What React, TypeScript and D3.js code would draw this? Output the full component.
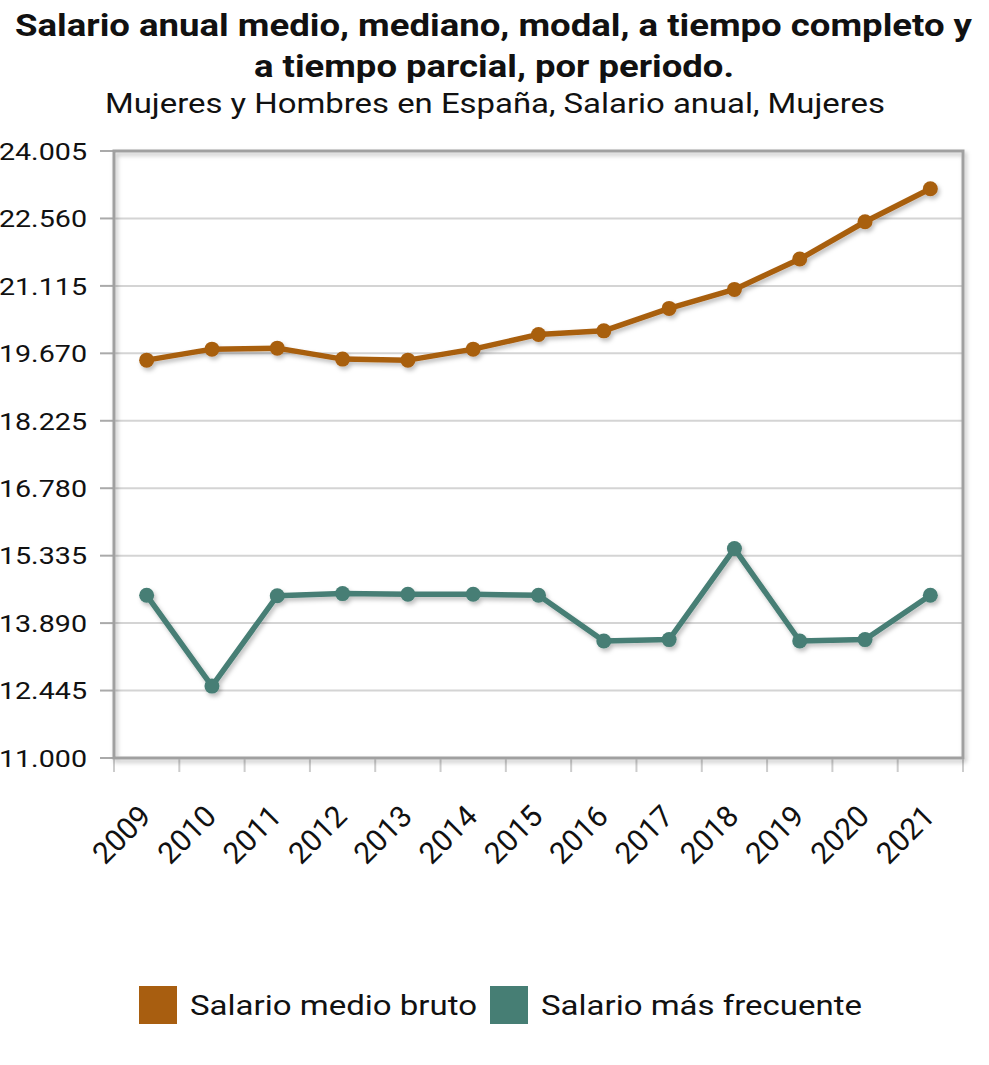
import * as d3 from "d3";

const years = ["2009", "2010", "2011", "2012", "2013", "2014", "2015", "2016", "2017", "2018", "2019", "2020", "2021"];
const salarioMedio = [19524, 19760, 19781, 19546, 19524, 19760, 20075, 20152, 20633, 21040, 21690, 22489, 23197];
const salarioFrecuente = [14486, 12541, 14476, 14522, 14507, 14507, 14486, 13507, 13537, 15487, 13507, 13537, 14486];
const yTicks = [11000, 12445, 13890, 15335, 16780, 18225, 19670, 21115, 22560, 24005];
const seriesNames = ["Salario medio bruto", "Salario más frecuente"];
const colors = ["#a85e10", "#467e74"];

const width = 989;
const height = 1065;
const margin = { top: 151, right: 26, bottom: 307, left: 114 };
const font = "Roboto, 'Noto Sans', sans-serif";
// the reference text is drawn slightly wider than Roboto's natural width
const stretch = 1.17;

export default function App() {
  const x = d3
    .scaleBand()
    .domain(years)
    .range([margin.left, width - margin.right]);

  const y = d3
    .scaleLinear()
    .domain([11000, 24005])
    .range([height - margin.bottom, margin.top]);

  const fmt = (v: number) => d3.format(",")(v).replace(/,/g, ".");
  const cx = (d: string) => (x(d) as number) + x.bandwidth() / 2;

  const line = d3
    .line<number>()
    .x((_, i) => cx(years[i]))
    .y((d) => y(d));

  const plotW = width - margin.left - margin.right;
  const plotH = height - margin.top - margin.bottom;
  const series = [salarioMedio, salarioFrecuente];
  const tickPos = [...years.map((d) => x(d) as number), width - margin.right];

  return (
    <svg
      width={width}
      height={height}
      style={{ position: "absolute", left: 0, top: 0, background: "#fff" }}
      fontFamily={font}
    >
      <defs>
        <filter id="shadow" x="-5%" y="-5%" width="115%" height="115%">
          <feDropShadow dx="2" dy="3" stdDeviation="2" floodColor="#000" floodOpacity="0.25" />
        </filter>
      </defs>

      {/* Title */}
      <text x={493.5} y={36} textAnchor="middle" fontSize={31} fontWeight="bold" fill="#111"
        textLength={957} lengthAdjust="spacingAndGlyphs">
        Salario anual medio, mediano, modal, a tiempo completo y
      </text>
      <text x={494} y={77} textAnchor="middle" fontSize={31} fontWeight="bold" fill="#111"
        textLength={480} lengthAdjust="spacingAndGlyphs">
        a tiempo parcial, por periodo.
      </text>
      <text x={495} y={113} textAnchor="middle" fontSize={28} fill="#111"
        textLength={780} lengthAdjust="spacingAndGlyphs">
        Mujeres y Hombres en España, Salario anual, Mujeres
      </text>

      {/* Grid */}
      {yTicks.map((t) => (
        <line
          key={t}
          x1={margin.left}
          x2={width - margin.right}
          y1={y(t)}
          y2={y(t)}
          stroke="#d4d4d4"
          strokeWidth={2}
        />
      ))}

      {/* Y ticks + labels */}
      {yTicks.map((t) => (
        <g key={"yt" + t}>
          <line x1={100} x2={margin.left} y1={y(t)} y2={y(t)} stroke="#aaa" strokeWidth={2} />
          <g transform={`translate(87,${y(t)}) scale(${stretch},1)`}>
            <text dy="0.36em" textAnchor="end" fontSize={24.5} fill="#111">
              {fmt(t)}
            </text>
          </g>
        </g>
      ))}

      {/* X ticks */}
      {tickPos.map((p, i) => (
        <line
          key={"xt" + i}
          x1={p}
          x2={p}
          y1={height - margin.bottom}
          y2={height - margin.bottom + 14}
          stroke="#ccc"
          strokeWidth={2}
        />
      ))}

      {/* Frame */}
      <rect
        x={margin.left}
        y={margin.top}
        width={plotW}
        height={plotH}
        fill="none"
        stroke="#a0a0a0"
        strokeWidth={3}
        filter="url(#shadow)"
      />

      {/* X labels */}
      {years.map((d) => (
        <text
          key={"xl" + d}
          transform={`translate(${cx(d) + 6},${818}) rotate(-45)`}
          textAnchor="end"
          fontSize={30}
          fill="#111"
        >
          {d}
        </text>
      ))}

      {/* Series */}
      {series.map((s, k) => (
        <g key={"s" + k} filter="url(#shadow)">
          <path d={line(s) as string} fill="none" stroke={colors[k]} strokeWidth={5.5} strokeLinejoin="round" />
          {s.map((v, i) => (
            <circle key={i} cx={cx(years[i])} cy={y(v)} r={7.5} fill={colors[k]} />
          ))}
        </g>
      ))}

      {/* Legend */}
      <g>
        <rect x={139} y={986} width={38} height={38} fill={colors[0]} />
        <text x={190} y={1005} dy="0.36em" fontSize={28} fill="#111"
          textLength={287} lengthAdjust="spacingAndGlyphs">
          {seriesNames[0]}
        </text>
        <rect x={490} y={986} width={38} height={38} fill={colors[1]} />
        <text x={541} y={1005} dy="0.36em" fontSize={28} fill="#111"
          textLength={321} lengthAdjust="spacingAndGlyphs">
          {seriesNames[1]}
        </text>
      </g>
    </svg>
  );
}
